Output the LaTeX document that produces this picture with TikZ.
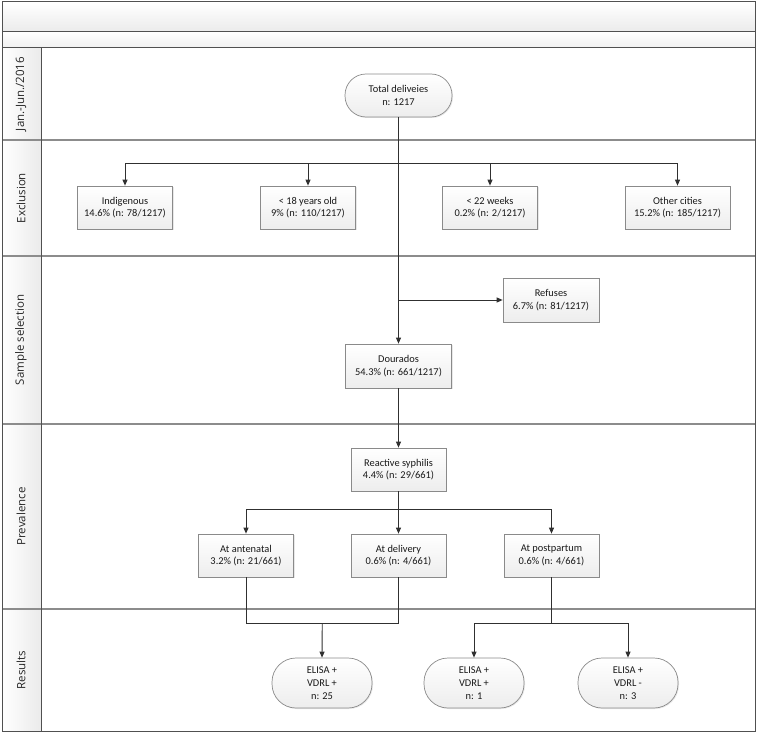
\documentclass[tikz,border=0pt]{standalone}
\usepackage{fontspec}
\setmainfont{Carlito}
\newfontfamily\lanefont{Open Sans}
\usetikzlibrary{arrows.meta,shadows,calc}
\definecolor{linec}{HTML}{303030}
\definecolor{boxborder}{HTML}{8A8A8A}
\definecolor{sepc}{HTML}{8C8C8C}
\definecolor{framec}{HTML}{505050}
\begin{document}
\begin{tikzpicture}[x=1pt,y=-1pt,
  boxnode/.style={rectangle, draw=boxborder, line width=0.7pt, top color=white, bottom color=gray!14,
    minimum width=95pt, minimum height=43pt, align=center, inner sep=1pt,
    font=\fontsize{10.4}{12.5}\selectfont, text=black!90,
    drop shadow={opacity=0.18, shadow xshift=1pt, shadow yshift=-1pt}},
  stadium/.style={boxnode, rounded corners=21pt},
  lanelabel/.style={rotate=90, font=\lanefont\fontsize{11.5}{13}\selectfont, text=black!85},
  conn/.style={draw=linec, line width=0.9pt},
  arr/.style={conn, -{Triangle[length=6pt,width=5pt]}},
  sep/.style={draw=sepc, line width=1.2pt},
  frame/.style={draw=framec, line width=1pt}]
\useasboundingbox (0,0) rectangle (757,733);
% backgrounds
\fill[top color=white, bottom color=gray!16] (2,2) rectangle (755,32);
\fill[top color=white, bottom color=gray!12] (2,32) rectangle (755,48);
\fill[left color=white, right color=gray!16] (2,48) rectangle (41,731);
% lane separators
\draw[frame] (2,32) -- (755,32);
\draw[frame] (2,48) -- (755,48);
\draw[sep] (2,140) -- (755,140);
\draw[sep] (2,256) -- (755,256);
\draw[sep] (2,424) -- (755,424);
\draw[sep] (2,609) -- (755,609);
\draw[frame] (41,48) -- (41,731);
\draw[frame] (2,2) rectangle (755,731);
% lane labels
\node[lanelabel] (l1) at (21,94) {Jan.-Jun./2016};
\node[lanelabel] (l2) at (21,198) {Exclusion};
\node[lanelabel] (l3) at (21,340) {Sample selection};
\node[lanelabel] (l4) at (21,516.5) {Prevalence};
\node[lanelabel] (l5) at (21,670) {Results};
% nodes
\node[stadium, minimum width=107pt] (total) at (398.5,95.5) {Total deliveies\\n: 1217};
\node[boxnode] (ind) at (125,207.5) {Indigenous\\14.6\% (n: 78/1217)};
\node[boxnode] (u18) at (308,207.5) {< 18 years old\\9\% (n: 110/1217)};
\node[boxnode] (u22) at (490,207.5) {< 22 weeks\\0.2\% (n: 2/1217)};
\node[boxnode, minimum width=105pt] (oth) at (677.5,207.5) {Other cities\\15.2\% (n: 185/1217)};
\node[boxnode, minimum width=96pt, minimum height=44pt] (ref) at (551,300) {Refuses\\6.7\% (n: 81/1217)};
\node[boxnode, minimum width=106pt, minimum height=44pt] (dour) at (398.5,366) {Dourados\\54.3\% (n: 661/1217)};
\node[boxnode] (reac) at (398.5,469.5) {Reactive syphilis\\4.4\% (n: 29/661)};
\node[boxnode] (ant) at (246,555.5) {At antenatal\\3.2\% (n: 21/661)};
\node[boxnode] (del) at (398.5,555.5) {At delivery\\0.6\% (n: 4/661)};
\node[boxnode] (post) at (551.5,555.5) {At postpartum\\0.6\% (n: 4/661)};
\node[stadium, minimum width=100pt, minimum height=50pt, rounded corners=24pt, font=\fontsize{10.4}{13}\selectfont] (e1) at (322,683) {ELISA +\\VDRL +\\n: 25};
\node[stadium, minimum width=100pt, minimum height=50pt, rounded corners=24pt, font=\fontsize{10.4}{13}\selectfont] (e2) at (474,683) {ELISA +\\VDRL +\\n: 1};
\node[stadium, minimum width=100pt, minimum height=50pt, rounded corners=24pt, font=\fontsize{10.4}{13}\selectfont] (e3) at (628,683) {ELISA +\\VDRL -\\n: 3};
% connectors
\coordinate (b1) at (398.5,163);
\coordinate (b2) at (398.5,300);
\coordinate (b3) at (398.5,509);
\coordinate (lv) at (0,623);
\draw[arr] (total.south) -- (dour.north);
\draw[arr] (b1) -| (ind.north);
\draw[arr] (b1) -| (u18.north);
\draw[arr] (b1) -| (u22.north);
\draw[arr] (b1) -| (oth.north);
\draw[arr] (b2) -- (ref.west);
\draw[arr] (dour.south) -- (reac.north);
\draw[conn] (reac.south) -- (b3);
\draw[arr] (b3) -| (ant.north);
\draw[arr] (b3) -- (del.north);
\draw[arr] (b3) -| (post.north);
\coordinate (ja) at (ant.south |- lv);
\coordinate (jd) at (del.south |- lv);
\coordinate (jp) at (post.south |- lv);
\draw[conn] (ant.south) -- (ja) -- (jd) -- (del.south);
\coordinate (j1) at ($(ja)!0.5!(jd)$);
\draw[arr] (j1) -- (e1.north);
\draw[conn] (post.south) -- (jp);
\draw[arr] (jp) -| (e2.north);
\draw[arr] (jp) -| (e3.north);
\end{tikzpicture}
\end{document}
